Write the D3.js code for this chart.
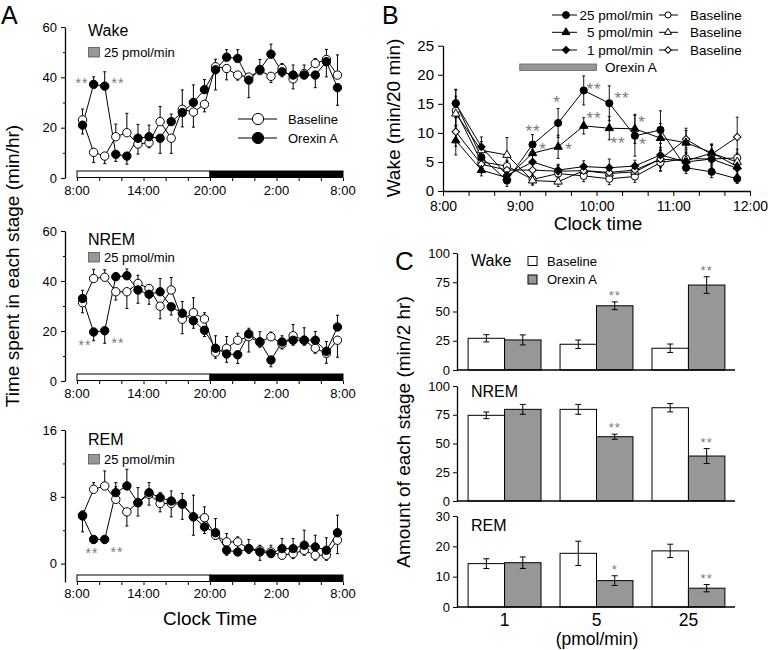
<!DOCTYPE html>
<html><head><meta charset="utf-8">
<script src="https://cdn.jsdelivr.net/npm/d3@7"></script>
<style>
body{margin:0;background:#fff}
svg{display:block}
text{font-family:"Liberation Sans",Arial,Helvetica,sans-serif;fill:#000}
</style>
</head><body>
<svg id="chart" width="768" height="650"></svg>
<script>
// ---------------- DATA ----------------
// Panel A (hourly, hours after 8:00 lights-on)
const aHours = [0.5,1.5,2.5,3.5,4.5,5.5,6.5,7.5,8.5,9.5,10.5,11.5,12.5,13.5,14.5,15.5,16.5,17.5,18.5,19.5,20.5,21.5,22.5,23.5];
const aTickVals = [0,6,12,18,24];
const aTickLabels = ["8:00","14:00","20:00","2:00","8:00"];

const wakeBase    = [23.1,10.2,8.7,16.4,18.0,13.5,14.0,22.4,15.8,27.3,26.2,29.3,44.2,43.5,40.9,40.1,42.7,40.4,43.5,39.4,41.5,45.5,47.1,40.9];
const wakeBaseErr = [4.3,-4,-3,5,7.7,-4,-2,6,-6,-7,-6,-3,3,-4.5,-2,-2,2,-2.5,2,-4,-2,2,4,8];
const wakeOrx     = [21.0,37.2,36.5,9.4,8.7,15.8,16.4,15.8,22.4,26.0,30.0,35.1,43.0,48.0,47.5,38.9,43.1,49.2,42.2,40.9,40.9,40.9,46.2,35.9];
const wakeOrxErr  = [-3.5,3,5.7,-2.8,-3.2,5.5,4.6,-6,3,9,7,4,-8,3,3.5,-7,4,4,-2,4,4,-5,-6,-7];

const nremBase    = [31.3,41.0,41.5,35.7,35.7,39.0,37.0,29.9,36.4,24.7,27.3,24.8,11.5,13.1,16.3,17.7,15.5,17.7,14.8,18.1,16.3,13.1,11.1,16.3];
const nremBaseErr = [-4,3.7,3,-3.3,-6.7,3.3,1.2,-5,5,-5.8,6,2.5,-2.4,4.7,2.8,-6.1,-2,1.9,-2,4.5,-2,-2,-4,-6.8];
const nremOrx     = [33.0,19.6,20.1,41.7,42.1,36.4,34.7,35.7,29.7,27.1,24.1,20.3,13.1,10.8,10.5,18.8,15.7,8.4,15.6,16.3,16.3,16.3,11.9,21.6];
const nremOrxErr  = [3.3,-3.5,-5,1.6,2.7,-5.3,-4,5.3,-3.3,4.7,-3,-2.5,5,-3.3,-3.5,2.3,4,-2.7,2.5,-2,5,3.5,3.9,4.7];

const remBase     = [5.8,8.9,9.3,7.7,6.2,7.3,8.3,7.2,7.2,7.1,5.6,5.5,3.4,2.6,2.6,1.8,1.6,1.4,1.0,1.2,1.6,1.0,1.0,2.8];
const remBaseErr  = [0.5,0.8,1.8,1.5,-1.7,-1.6,1.4,-1,-1.6,-1.8,2.6,1.3,-0.5,1,0.6,-0.6,0.6,-0.5,0.6,-0.6,-0.6,-0.6,-0.6,-1.6];
const remOrx      = [5.7,2.9,2.9,8.5,9.3,7.3,8.5,7.9,7.5,7.2,5.6,4.4,3.7,1.6,1.4,1.8,1.4,1.2,1.8,1.8,2.2,2.0,1.6,3.7];
const remOrxErr   = [-1.9,-0.5,-0.5,1.2,2,1.8,-1.5,0.6,1.2,1.2,-2.2,-0.8,1.7,-0.6,0.8,1.1,-1,1,1.2,1.2,1.8,1.4,1.5,2.1];

// Panel B (20-min bins, minutes after 8:00)
const bMinutes = [10,30,50,70,90,110,130,150,170,190,210,230];
const bTickVals = [0,60,120,180,240];
const bTickLabels = ["8:00","9:00","10:00","11:00","12:00"];
const b25     = [15.1,5.8,1.8,8.0,11.7,17.3,15.1,9.5,10.5,4.0,3.3,2.1];
const b25Err  = [2.4,1.7,1.0,1.7,2.5,2.5,3.0,3.5,3.3,1.0,1.0,0.8];
const b5      = [8.7,3.6,2.3,6.5,7.6,11.2,10.8,10.7,9.1,8.3,6.6,4.2];
const b5Err   = [2.5,1.0,1.0,1.5,2.0,1.4,2.0,2.5,2.5,2.5,1.5,1.5];
const b1      = [15.0,7.6,2.7,5.0,3.6,4.2,4.0,4.3,6.2,5.0,5.5,3.9];
const b1Err   = [2.4,1.7,0.8,1.5,1.0,1.0,1.5,1.0,2.0,1.5,1.5,1.0];
const b25Base    = [13.8,5.0,4.3,2.0,3.0,2.6,2.1,2.5,4.9,5.6,5.5,5.7];
const b25BaseErr = [2.5,1.0,1.0,0.8,1.0,1.0,1.0,1.0,1.5,1.5,1.0,1.5];
const b5Base     = [13.3,7.0,6.2,1.8,1.6,3.5,3.0,3.3,5.5,5.2,6.5,5.0];
const b5BaseErr  = [2.5,1.5,3.0,0.8,0.8,1.0,1.0,1.0,2.0,1.5,1.5,1.5];
const b1Base     = [10.2,4.6,3.6,3.6,3.4,3.5,3.2,3.6,5.5,8.9,6.3,9.3];
const b1BaseErr  = [2.5,1.5,1.5,1.0,1.0,1.0,1.0,1.0,1.5,1.5,1.5,3.4];

// Panel C (2-hr totals by dose)
const cDoses = ["1","5","25"];
const cGroups = ["Baseline","Orexin A"];
const cWakeBase = [27.1,22.0,18.6],  cWakeBaseErr = [3.1,3.6,3.6];
const cWakeOrx  = [25.7,54.9,72.6],  cWakeOrxErr  = [4.3,3.3,7.1];
const cNremBase = [74.5,79.7,81.1],  cNremBaseErr = [2.9,4.3,3.6];
const cNremOrx  = [79.7,55.9,39.1],  cNremOrxErr  = [4.3,2.2,6.5];
const cRemBase  = [14.3,17.7,18.5],  cRemBaseErr  = [1.6,4.0,2.2];
const cRemOrx   = [14.6,8.7,6.2],    cRemOrxErr   = [1.9,1.6,1.2];
const cWakeStars = ["","**","**"], cNremStars = ["","**","**"], cRemStars = ["","*","**"];

// ---------------- DRAWING ----------------
const svg = d3.select("#chart");
const STAR = "#7a7a7a";
const GRAY = "#979797";

function txt(g, x, y, s, size, anchor, extra){
  const t = g.append("text").attr("x",x).attr("y",y).text(s)
    .style("font-size",size+"px").attr("text-anchor",anchor||"start");
  if(extra) extra(t);
  return t;
}
function styleAxis(sel, fs){
  sel.selectAll("path.domain").attr("stroke","#000").attr("stroke-width",1.3);
  sel.selectAll(".tick line").attr("stroke","#000").attr("stroke-width",1);
  sel.selectAll(".tick text").style("font-size",fs+"px")
     .style("font-family","'Liberation Sans',Arial,sans-serif").attr("fill","#000");
}

// Panel labels
txt(svg,1,24,"A",25);
txt(svg,382,24,"B",25);
txt(svg,395,270,"C",26);

// ======== Panel A ========
const ax = d3.scaleLinear().domain([0,24]).range([77,343]);
const aY0 = 65;

function panelA(o){
  const g = svg.append("g");
  const y = d3.scaleLinear().domain(o.dom).range(o.rng);
  const yaxis = g.append("g").attr("transform",`translate(${aY0},0)`)
    .call(d3.axisLeft(y).tickValues(o.ticks).tickSize(4).tickSizeOuter(0).tickPadding(4));
  styleAxis(yaxis,13);
  const ym = g.append("g").attr("transform",`translate(${aY0},0)`)
    .call(d3.axisLeft(y).tickValues(o.minor).tickSize(2).tickFormat(""));
  ym.select("path.domain").remove();
  ym.selectAll(".tick line").attr("stroke","#000");
  // light/dark bar
  const bb = o.rng[0];
  g.append("rect").attr("x",ax(0)).attr("y",bb-7).attr("width",ax(12)-ax(0)).attr("height",6.5)
    .attr("fill","#fff").attr("stroke","#000").attr("stroke-width",1);
  g.append("rect").attr("x",ax(12)).attr("y",bb-7).attr("width",ax(24)-ax(12)).attr("height",6.5)
    .attr("fill","#000").attr("stroke","#000").attr("stroke-width",1);
  const xa = g.append("g").attr("transform",`translate(0,${bb})`)
    .call(d3.axisBottom(ax).tickValues(d3.range(0,25,2)).tickSize(3).tickFormat(""));
  xa.select("path.domain").remove();
  xa.selectAll(".tick line").attr("stroke","#000");
  aTickVals.forEach((v,i)=>txt(g,ax(v),o.lblY,aTickLabels[i],13,"middle"));

  const line = d3.line().x((d,i)=>ax(aHours[i])).y(d=>y(d));
  [o.base,o.orx].forEach(s=>g.append("path").attr("d",line(s)).attr("fill","none").attr("stroke","#000").attr("stroke-width",1));
  [[o.base,o.baseErr],[o.orx,o.orxErr]].forEach(([s,e])=>{
    s.forEach((v,i)=>{
      const x = ax(aHours[i]), y1 = y(v), y2 = y(v+e[i]);
      g.append("line").attr("x1",x).attr("x2",x).attr("y1",y1).attr("y2",y2).attr("stroke","#000");
      g.append("line").attr("x1",x-1.5).attr("x2",x+1.5).attr("y1",y2).attr("y2",y2).attr("stroke","#000");
    });
  });
  g.selectAll(null).data(o.base).enter().append("circle")
    .attr("cx",(d,i)=>ax(aHours[i])).attr("cy",d=>y(d)).attr("r",4.2)
    .attr("fill","#fff").attr("stroke","#000").attr("stroke-width",1);
  g.selectAll(null).data(o.orx).enter().append("circle")
    .attr("cx",(d,i)=>ax(aHours[i])).attr("cy",d=>y(d)).attr("r",4.2)
    .attr("fill","#000").attr("stroke","#000");

  txt(g,88,o.titleY,o.title,16);
  g.append("rect").attr("x",88.5).attr("y",o.legY-4.5).attr("width",11).attr("height",9.5)
    .attr("fill",GRAY).attr("stroke","#555").attr("stroke-width",0.8);
  txt(g,104,o.legY+4.5,"25 pmol/min",13);
  o.stars.forEach(s=>txt(g,s[0],s[1]+8,"**",14,"middle",t=>t.style("fill",STAR).style("letter-spacing","1px")));
}

panelA({dom:[0,60],rng:[178,27],ticks:[0,20,40,60],minor:[10,30,50],lblY:195,
  base:wakeBase,baseErr:wakeBaseErr,orx:wakeOrx,orxErr:wakeOrxErr,
  title:"Wake",titleY:36,legY:52,stars:[[82,80],[118,80]]});
panelA({dom:[0,60],rng:[381,231],ticks:[0,20,40,60],minor:[10,30,50],lblY:398,
  base:nremBase,baseErr:nremBaseErr,orx:nremOrx,orxErr:nremOrxErr,
  title:"NREM",titleY:245,legY:257,stars:[[85,342],[118,340]]});
panelA({dom:[-2.2,16],rng:[582,430],ticks:[0,8,16],minor:[4,12],lblY:598,
  base:remBase,baseErr:remBaseErr,orx:remOrx,orxErr:remOrxErr,
  title:"REM",titleY:444.5,legY:459,stars:[[92,550],[117,549]]});

// Wake legend (Baseline / Orexin A)
[["Baseline","#fff",119],["Orexin A","#000",138]].forEach(([s,f,yy])=>{
  svg.append("line").attr("x1",238).attr("x2",277).attr("y1",yy).attr("y2",yy).attr("stroke","#000");
  svg.append("circle").attr("cx",258).attr("cy",yy).attr("r",5.6).attr("fill",f).attr("stroke","#000");
  txt(svg,288,yy+4.5,s,13);
});

txt(svg,210,625,"Clock Time",19,"middle");
txt(svg,0,0,"Time spent in each stage (min/hr)",19,"middle",t=>t.attr("transform","translate(19,266) rotate(-90)"));

// ======== Panel B ========
const bX = d3.scaleLinear().domain([0,240]).range([443,750]);
const bY = d3.scaleLinear().domain([0,25]).range([191,45.7]);
{
  const g = svg.append("g");
  const ya = g.append("g").attr("transform","translate(443,0)")
    .call(d3.axisLeft(bY).tickValues([0,5,10,15,20,25]).tickSize(5).tickSizeOuter(0).tickPadding(4));
  styleAxis(ya,15);
  const xa = g.append("g").attr("transform","translate(0,191)")
    .call(d3.axisBottom(bX).tickValues(d3.range(0,241,20)).tickSize(5).tickSizeOuter(0)
      .tickFormat(d=>{const i=bTickVals.indexOf(d);return i>=0?bTickLabels[i]:"";}).tickPadding(5));
  styleAxis(xa,14);

  // Orexin A infusion bar
  g.append("rect").attr("x",bX(60)).attr("y",64).attr("width",bX(120)-bX(60)).attr("height",6.5)
    .attr("fill",GRAY).attr("stroke","#666").attr("stroke-width",0.8);
  txt(g,605,71.5,"Orexin A",13.5);

  const series = [
    {v:b25Base,e:b25BaseErr,sym:"circle",fill:"#fff"},
    {v:b5Base,e:b5BaseErr,sym:"tri",fill:"#fff"},
    {v:b1Base,e:b1BaseErr,sym:"dia",fill:"#fff"},
    {v:b1,e:b1Err,sym:"dia",fill:"#000"},
    {v:b5,e:b5Err,sym:"tri",fill:"#000"},
    {v:b25,e:b25Err,sym:"circle",fill:"#000"}
  ];
  const line = d3.line().x((d,i)=>bX(bMinutes[i])).y(d=>bY(d));
  series.forEach(s=>g.append("path").attr("d",line(s.v)).attr("fill","none").attr("stroke","#000").attr("stroke-width",1));
  series.forEach(s=>s.v.forEach((v,i)=>{
    const x=bX(bMinutes[i]);
    g.append("line").attr("x1",x).attr("x2",x).attr("y1",bY(v-s.e[i])).attr("y2",bY(v+s.e[i])).attr("stroke","#000").attr("stroke-width",0.9);
    [v-s.e[i],v+s.e[i]].forEach(w=>g.append("line").attr("x1",x-1.5).attr("x2",x+1.5).attr("y1",bY(w)).attr("y2",bY(w)).attr("stroke","#000").attr("stroke-width",0.9));
  }));
  function marker(gg,x,y,sym,fill,sc){
    sc = sc||1;
    if(sym==="circle") return gg.append("circle").attr("cx",x).attr("cy",y).attr("r",3.6*sc).attr("fill",fill).attr("stroke","#000");
    if(sym==="tri") return gg.append("path").attr("d",d3.symbol(d3.symbolTriangle,30*sc*sc)()).attr("transform",`translate(${x},${y})`).attr("fill",fill).attr("stroke","#000");
    return gg.append("path").attr("d",d3.symbol(d3.symbolSquare,28*sc*sc)()).attr("transform",`translate(${x},${y}) rotate(45)`).attr("fill",fill).attr("stroke","#000");
  }
  series.forEach(s=>s.v.forEach((v,i)=>marker(g,bX(bMinutes[i]),bY(v),s.sym,s.fill)));

  // legend
  const rows = [["25 pmol/min","circle",15],["5 pmol/min","tri",32.3],["1 pmol/min","dia",50]];
  rows.forEach(([lab,sym,yy])=>{
    g.append("line").attr("x1",552).attr("x2",577).attr("y1",yy).attr("y2",yy).attr("stroke","#000");
    marker(g,566,yy,sym,"#000",0.95);
    txt(g,653,yy+5,lab,13.5,"end");
    g.append("line").attr("x1",659).attr("x2",678).attr("y1",yy).attr("y2",yy).attr("stroke","#000");
    marker(g,668,yy,sym,"#fff",0.85);
    txt(g,690,yy+5,"Baseline",13.5);
  });

  const bStars = [["**",533,128],["*",557,99],["**",594,86],["**",622,95],["*",543,146],["*",569,146],["**",594,115],["**",618,140],["*",642,119],["*",643,141]];
  bStars.forEach(([s,x,y])=>txt(g,x,y+9,s,17,"middle",t=>t.style("fill",STAR).style("letter-spacing","1px")));

  txt(g,598,230,"Clock time",19,"middle");
  txt(g,0,0,"Wake (min/20 min)",19,"middle",t=>t.attr("transform","translate(400,118) rotate(-90)"));
}

// ======== Panel C ========
const cX = d3.scaleBand().domain(cDoses).range([458,735]).paddingInner(0.207).paddingOuter(0.11);
const cSub = d3.scaleBand().domain(cGroups).range([0,cX.bandwidth()]);
function panelC(o){
  const g = svg.append("g");
  const y = d3.scaleLinear().domain(o.dom).range(o.rng);
  const ya = g.append("g").attr("transform","translate(457,0)")
    .call(d3.axisLeft(y).tickValues(o.ticks).tickSize(4).tickSizeOuter(0).tickPadding(3));
  styleAxis(ya,13);
  const pairs = [[o.base,o.baseErr,"Baseline","#fff"],[o.orx,o.orxErr,"Orexin A",GRAY]];
  pairs.forEach(([vals,errs,grp,fill])=>{
    vals.forEach((v,i)=>{
      const x = cX(cDoses[i])+cSub(grp), w = cSub.bandwidth();
      g.append("rect").attr("x",x).attr("y",y(v)).attr("width",w).attr("height",y(0)-y(v))
        .attr("fill",fill).attr("stroke","#000").attr("stroke-width",1);
      const cx = x+w/2;
      g.append("line").attr("x1",cx).attr("x2",cx).attr("y1",y(v-errs[i])).attr("y2",y(v+errs[i])).attr("stroke","#000");
      [v-errs[i],v+errs[i]].forEach(q=>g.append("line").attr("x1",cx-3).attr("x2",cx+3).attr("y1",y(q)).attr("y2",y(q)).attr("stroke","#000"));
    });
  });
  g.append("line").attr("x1",457).attr("x2",735).attr("y1",y(0)).attr("y2",y(0)).attr("stroke","#000").attr("stroke-width",1.3);
  o.stars.forEach((s,i)=>{
    if(!s) return;
    const cx = cX(cDoses[i])+cSub("Orexin A")+cSub.bandwidth()/2;
    txt(g,cx,y(o.orx[i]+o.orxErr[i])-2,s,13,"middle",t=>t.style("fill",STAR).style("letter-spacing","1px"));
  });
  txt(g,471,o.titleY,o.title,16);
}
panelC({dom:[0,100],rng:[370,253],ticks:[0,25,50,75,100],base:cWakeBase,baseErr:cWakeBaseErr,orx:cWakeOrx,orxErr:cWakeOrxErr,stars:cWakeStars,title:"Wake",titleY:266});
panelC({dom:[0,100],rng:[501,386],ticks:[0,25,50,75,100],base:cNremBase,baseErr:cNremBaseErr,orx:cNremOrx,orxErr:cNremOrxErr,stars:cNremStars,title:"NREM",titleY:397});
panelC({dom:[0,30],rng:[607,516],ticks:[0,10,20,30],base:cRemBase,baseErr:cRemBaseErr,orx:cRemOrx,orxErr:cRemOrxErr,stars:cRemStars,title:"REM",titleY:530.5});

// C legend
[["Baseline","#fff",261],["Orexin A",GRAY,279.5]].forEach(([s,f,yy])=>{
  svg.append("rect").attr("x",528).attr("y",yy-4.5).attr("width",9).attr("height",9).attr("fill",f).attr("stroke","#000");
  txt(svg,547,yy+4.5,s,13);
});
cDoses.forEach(d=>txt(svg,cX(d)+cX.bandwidth()/2,626,d,17.5,"middle"));
txt(svg,597,645,"(pmol/min)",17.5,"middle");
txt(svg,0,0,"Amount of each stage (min/2 hr)",19,"middle",t=>t.attr("transform","translate(410,432) rotate(-90)"));
</script>
</body></html>
